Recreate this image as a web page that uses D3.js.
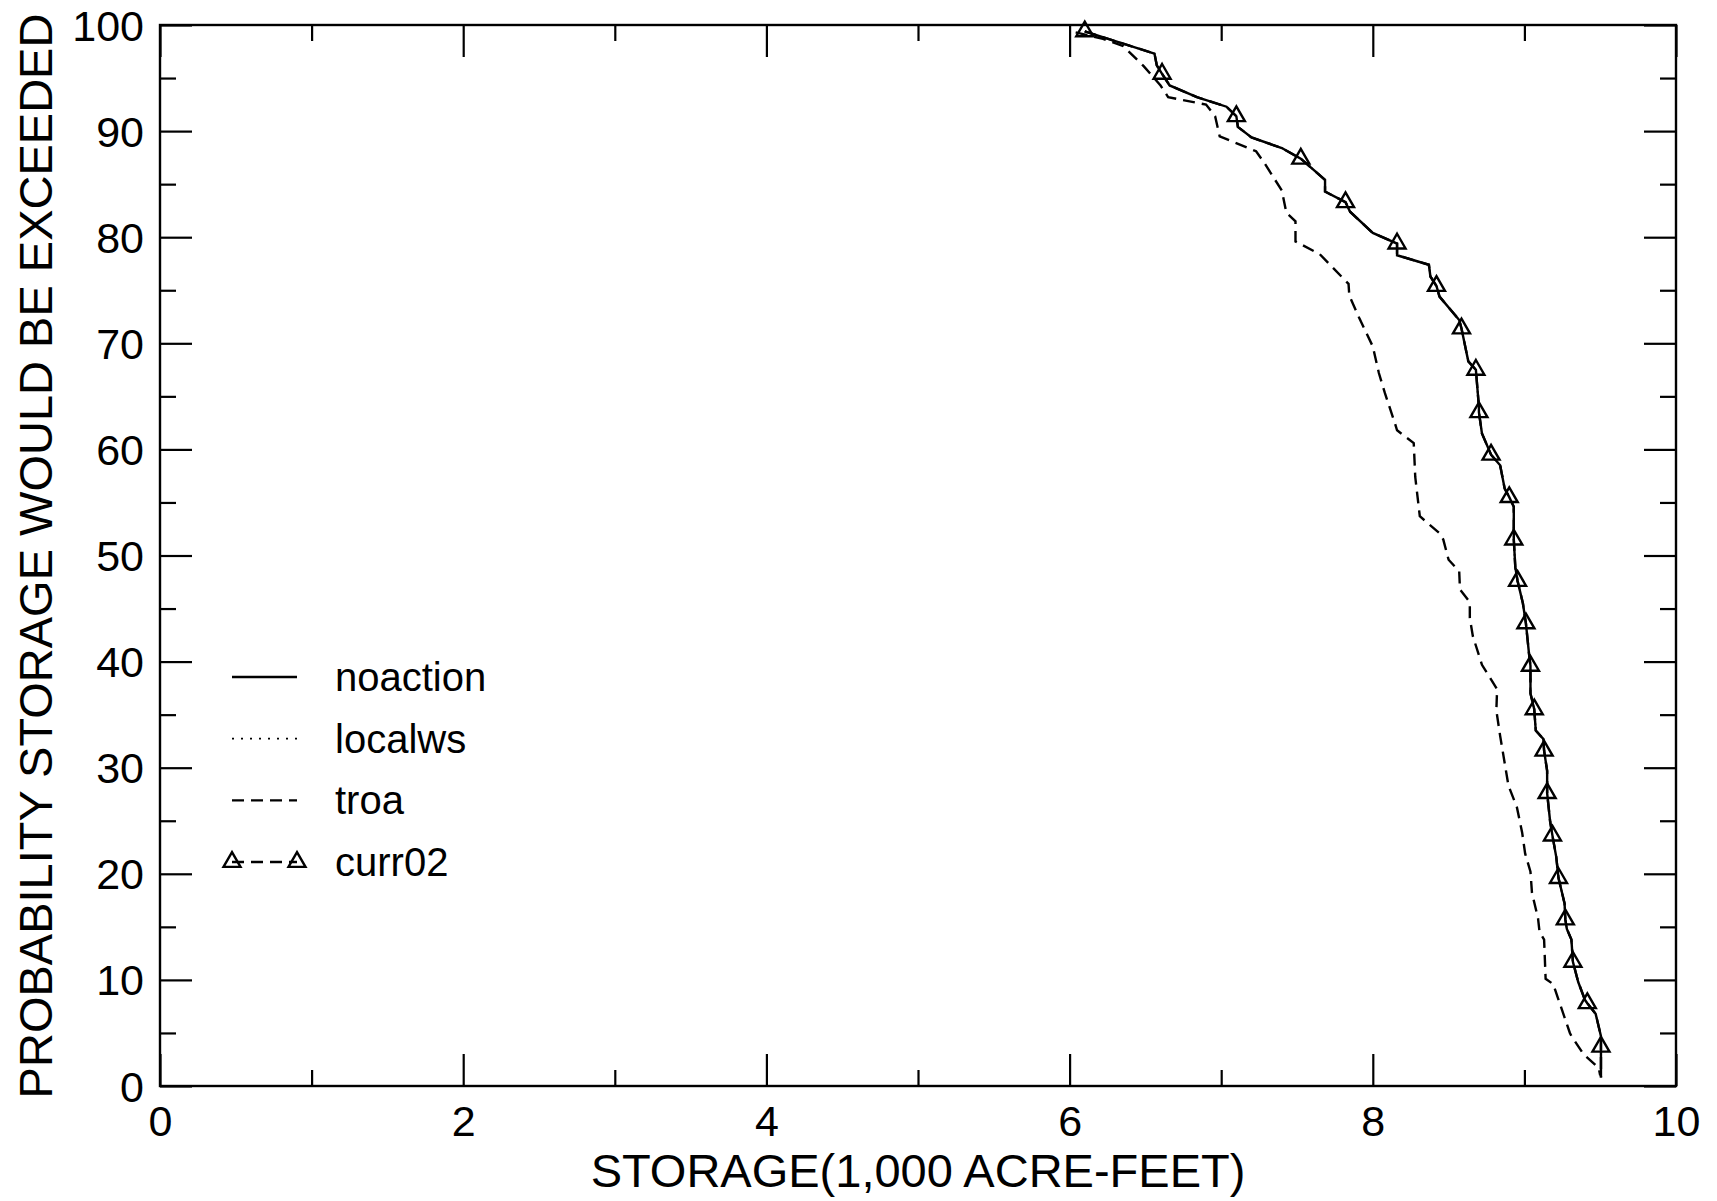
<!DOCTYPE html>
<html><head><meta charset="utf-8">
<script src="https://cdn.jsdelivr.net/npm/d3@7"></script>
<style>
body{margin:0;background:#fff}
svg{display:block}
text{font-family:"Liberation Sans",Arial,Helvetica,sans-serif;fill:#000}
</style>
</head><body>
<svg id="chart" width="1717" height="1201"></svg>
<script>
// ---- data ----
const seriesNames = ["noaction", "localws", "troa", "curr02"];
const xTickValues = [0, 2, 4, 6, 8, 10];
const xMinorTickValues = [1, 3, 5, 7, 9];
const yTickValues = [0, 10, 20, 30, 40, 50, 60, 70, 80, 90, 100];
const yMinorTickValues = [5, 15, 25, 35, 45, 55, 65, 75, 85, 95];
const xTitle = "STORAGE(1,000 ACRE-FEET)";
const yTitle = "PROBABILITY STORAGE WOULD BE EXCEEDED";

const noactionStorage = [6.10,6.56,6.575,6.61,6.66,6.84,7.035,7.10,7.11,7.20,7.40,7.525,7.685,7.685,7.82,7.85,8.00,8.16,8.16,8.37,8.38,8.42,8.44,8.57,8.585,8.63,8.68,8.70,8.70,8.72,8.78,8.84,8.87,8.90,8.93,8.93,8.93,8.94,8.955,8.99,9.01,9.03,9.04,9.04,9.065,9.075,9.125,9.13,9.15,9.15,9.17,9.185,9.21,9.225,9.265,9.27,9.28,9.31,9.32,9.355,9.40,9.415,9.47,9.505,9.505,9.505];
const noactionProb    = [99.4,97.3,96.2,95.4,94.3,93.2,92.3,91.4,90.4,89.4,88.4,87.4,85.4,84.3,83.3,82.4,80.4,79.4,78.3,77.4,76.3,75.4,74.4,72.2,71.4,68.3,67.5,64.0,63.5,61.5,59.5,58.5,56.3,55.5,54.6,52.1,51.5,48.9,47.6,45.5,43.6,40.8,39.6,37.0,35.5,33.5,32.7,31.6,29.7,27.6,24.9,23.6,21.6,19.6,17.2,15.7,14.8,13.8,11.7,9.8,8.1,7.8,6.8,4.7,3.7,0.8];

// localws and curr02 coincide with noaction in the picture
const localwsStorage = noactionStorage;
const localwsProb = noactionProb;
const curr02Storage = noactionStorage;
const curr02Prob = noactionProb;
const curr02MarkerStorage = [6.10,6.61,7.10,7.525,7.82,8.16,8.42,8.585,8.68,8.70,8.78,8.90,8.93,8.955,9.01,9.04,9.065,9.13,9.15,9.185,9.225,9.27,9.32,9.415,9.505];
const curr02MarkerProb    = [99.4,95.4,91.4,87.4,83.3,79.4,75.4,71.4,67.5,63.5,59.5,55.5,51.5,47.6,43.6,39.6,35.5,31.6,27.6,23.6,19.6,15.7,11.7,7.8,3.7];

const troaStorage = [6.04,6.22,6.355,6.49,6.60,6.65,6.90,6.96,6.99,7.23,7.28,7.40,7.43,7.49,7.49,7.65,7.84,7.845,7.91,8.00,8.04,8.08,8.145,8.16,8.27,8.28,8.31,8.44,8.465,8.50,8.57,8.575,8.64,8.64,8.66,8.72,8.82,8.815,8.84,8.895,8.95,8.985,9.005,9.04,9.05,9.09,9.10,9.13,9.14,9.19,9.30,9.31,9.39,9.49,9.50];
const troaProb    = [99.3,98.7,98.0,96.1,94.3,93.2,92.5,91.4,89.5,88.1,87.1,84.4,82.3,81.5,79.6,78.4,75.6,74.5,72.4,69.7,67.2,65.3,62.5,61.8,60.6,57.4,53.7,52.1,51.5,49.6,48.5,46.8,45.6,44.1,42.4,39.7,37.4,35.4,33.0,28.3,26.3,23.9,21.9,20.2,18.2,15.8,14.5,13.8,10.1,9.6,5.0,4.7,3.0,1.7,1.0];

// ---- layout ----
const W = 1717, H = 1201;
const L = 160, R = 1676, T = 25, B = 1086;
const svg = d3.select("#chart");
const x = d3.scaleLinear().domain([0, 10]).range([L, R]);
const y = d3.scaleLinear().domain([0, 100]).range([B, T]);

svg.append("rect").attr("width", W).attr("height", H).attr("fill", "#fff");

function ticks(axisGen, tf, vals, size) {
  const g = svg.append("g").attr("transform", tf)
    .call(axisGen.tickValues(vals).tickSize(size).tickFormat(""));
  g.select(".domain").remove();
  g.selectAll(".tick line").attr("stroke", "#000").attr("stroke-width", 2.2);
}
ticks(d3.axisTop(x), `translate(0,${B})`, xTickValues, 32);
ticks(d3.axisTop(x), `translate(0,${B})`, xMinorTickValues, 16);
ticks(d3.axisBottom(x), `translate(0,${T})`, xTickValues, 32);
ticks(d3.axisBottom(x), `translate(0,${T})`, xMinorTickValues, 16);
ticks(d3.axisRight(y), `translate(${L},0)`, yTickValues, 32);
ticks(d3.axisRight(y), `translate(${L},0)`, yMinorTickValues, 16);
ticks(d3.axisLeft(y), `translate(${R},0)`, yTickValues, 32);
ticks(d3.axisLeft(y), `translate(${R},0)`, yMinorTickValues, 16);

// tick labels
const xl = svg.append("g").attr("transform", `translate(0,${B})`)
  .call(d3.axisBottom(x).tickValues(xTickValues).tickSize(0).tickPadding(19).tickFormat(d3.format("d")));
xl.select(".domain").remove();
xl.selectAll("text").attr("font-size", 43).attr("font-family", '"Liberation Sans",Arial,sans-serif').attr("fill", "#000");

const yl = svg.append("g").attr("transform", `translate(${L},0)`)
  .call(d3.axisLeft(y).tickValues(yTickValues).tickSize(0).tickPadding(16).tickFormat(d3.format("d")));
yl.select(".domain").remove();
yl.selectAll("text").attr("font-size", 43).attr("font-family", '"Liberation Sans",Arial,sans-serif').attr("fill", "#000").attr("dy", "0.35em");

// titles
svg.append("text").attr("x", 918).attr("y", 1187)
  .attr("text-anchor", "middle").attr("font-size", 47).text(xTitle);
svg.append("text").attr("transform", "translate(52,556) rotate(-90)")
  .attr("text-anchor", "middle").attr("font-size", 47).text(yTitle);

// ---- series ----
const line = d3.line().x(d => x(d[0])).y(d => y(d[1]));
const plot = svg.append("g");
plot.append("path").datum(d3.zip(troaStorage, troaProb)).attr("d", line)
  .attr("fill", "none").attr("stroke", "#000").attr("stroke-width", 2.4).attr("stroke-dasharray", "12,7");
plot.append("path").datum(d3.zip(curr02Storage, curr02Prob)).attr("d", line)
  .attr("fill", "none").attr("stroke", "#000").attr("stroke-width", 2.4).attr("stroke-dasharray", "12,7");
plot.append("path").datum(d3.zip(localwsStorage, localwsProb)).attr("d", line)
  .attr("fill", "none").attr("stroke", "#000").attr("stroke-width", 1.8).attr("stroke-dasharray", "2,7");
plot.append("path").datum(d3.zip(noactionStorage, noactionProb)).attr("d", line)
  .attr("fill", "none").attr("stroke", "#000").attr("stroke-width", 2.4);
const tri = d3.symbol(d3.symbolTriangle).size(125);
plot.selectAll(".mk").data(d3.zip(curr02MarkerStorage, curr02MarkerProb)).join("path")
  .attr("transform", d => `translate(${x(d[0])},${y(d[1])})`)
  .attr("d", tri).attr("fill", "none").attr("stroke", "#000").attr("stroke-width", 2.4);

// frame
svg.append("rect").attr("x", L).attr("y", T).attr("width", R - L).attr("height", B - T)
  .attr("fill", "none").attr("stroke", "#000").attr("stroke-width", 2.4);

// ---- legend ----
const legStyles = {
  noaction: {dash: null, w: 2.4, marker: false},
  localws: {dash: "2,7", w: 1.8, marker: false},
  troa: {dash: "12,7", w: 2.4, marker: false},
  curr02: {dash: "12,7", w: 2.4, marker: true}
};
const leg = svg.append("g");
const legRowY = d3.scalePoint().domain(seriesNames).range([677, 862]);
seriesNames.forEach(name => {
  const st = legStyles[name];
  const yy = legRowY(name);
  leg.append("line").attr("x1", 232).attr("x2", 297).attr("y1", yy).attr("y2", yy)
    .attr("stroke", "#000").attr("stroke-width", st.w)
    .attr("stroke-dasharray", st.dash);
  if (st.marker) {
    [232, 297].forEach(mx => leg.append("path").attr("transform", `translate(${mx},${yy})`)
      .attr("d", tri).attr("fill", "none").attr("stroke", "#000").attr("stroke-width", 2.4));
  }
  leg.append("text").attr("x", 335).attr("y", yy + 14).attr("font-size", 40).text(name);
});
</script>
</body></html>
